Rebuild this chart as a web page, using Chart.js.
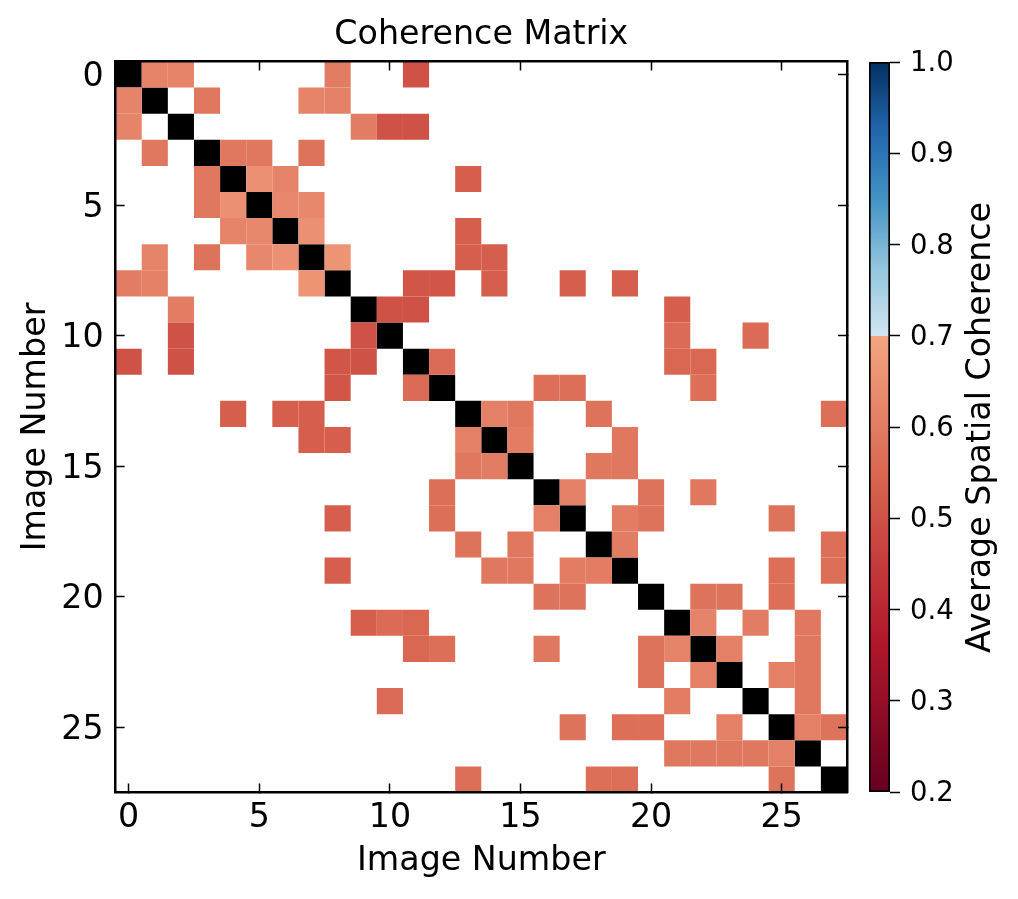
<!DOCTYPE html>
<html>
<head>
<meta charset="utf-8">
<title>Coherence Matrix</title>
<style>
    body { margin: 0; background: #fff; }
    canvas { position: absolute; top: 0; }
    #matrixChart { left: 0; }
    #colorbarChart { left: 855px; }
</style>
</head>
<body>
<canvas id="matrixChart" width="855" height="899"></canvas>
<canvas id="colorbarChart" width="163" height="899"></canvas>
<script src="https://cdn.jsdelivr.net/npm/chart.js@4"></script>
<script>
/* DATA */

const imageCount = 28
const imageTicks = [0, 5, 10, 15, 20, 25]
const colorbarTicks = [0.2, 0.3, 0.4, 0.5, 0.6, 0.7, 0.8, 0.9, 1.0]

// image pair [a, b, average coherence], matrix is symmetric
const pairs = [
    [0, 1, .62], [0, 2, .62], [0, 8, .60], [0, 11, .50],
    [1, 3, .59], [1, 7, .62], [1, 8, .61],
    [2, 9, .60], [2, 10, .50], [2, 11, .50],
    [3, 4, .59], [3, 5, .59], [3, 7, .58],
    [4, 5, .65], [4, 6, .62], [4, 13, .53],
    [5, 6, .63], [5, 7, .63],
    [6, 7, .65], [6, 13, .53],
    [7, 8, .66], [7, 13, .53], [7, 14, .53],
    [8, 11, .51], [8, 12, .51], [8, 14, .53], [8, 17, .53], [8, 19, .53],
    [9, 10, .50], [9, 11, .50], [9, 21, .53],
    [10, 21, .56], [10, 24, .56],
    [11, 12, .56], [11, 21, .55], [11, 22, .55],
    [12, 16, .57], [12, 17, .57], [12, 22, .57],
    [13, 14, .61], [13, 15, .59], [13, 18, .58], [13, 27, .57],
    [14, 15, .60], [14, 19, .59],
    [15, 18, .59], [15, 19, .59],
    [16, 17, .61], [16, 20, .58], [16, 22, .59],
    [17, 19, .60], [17, 20, .58], [17, 25, .58],
    [18, 19, .60], [18, 27, .57],
    [19, 25, .57], [19, 27, .57],
    [20, 22, .58], [20, 23, .58], [20, 25, .57],
    [21, 22, .62], [21, 24, .60], [21, 26, .59],
    [22, 23, .61], [22, 26, .59],
    [23, 25, .61], [23, 26, .59],
    [24, 26, .59],
    [25, 26, .61], [25, 27, .58]
]

// colormap: RdBu with the near-white middle cut out at 0.7
const cmapValues = [0.2, 0.367, 0.533, 0.7, 0.7, 0.775, 0.85, 0.925, 1.0]
const cmapColors = [
    [103, 0, 31], [178, 24, 43], [214, 96, 77], [244, 165, 130],
    [209, 229, 240], [146, 197, 222], [67, 147, 195], [33, 102, 172], [5, 48, 97]
]

/* HELPERS */

const FONT = '"DejaVu Sans"'

function coherenceColor(v) {
    let i = 0
    while (i < cmapValues.length - 2 && v >= cmapValues[i + 1]) i++
    const t = (v - cmapValues[i]) / ((cmapValues[i + 1] - cmapValues[i]) || 1)
    const c = cmapColors[i].map((a, k) => Math.round(a + (cmapColors[i + 1][k] - a) * t))
    return `rgb(${c[0]},${c[1]},${c[2]})`
}

function buildCells() {
    const cells = []
    for (let i = 0; i < imageCount; i++) {
        cells.push({ x: i, y: i, v: null })
    }
    pairs.forEach(([a, b, v]) => {
        cells.push({ x: b, y: a, v })
        cells.push({ x: a, y: b, v })
    })
    return cells
}

function useImageTicks(axis) {
    axis.ticks = imageTicks.map((value) => ({ value }))
}

function imageAxis(position, size, extra) {
    return Object.assign({
        type: 'linear',
        position,
        min: -0.5,
        max: imageCount - 0.5,
        afterBuildTicks: useImageTicks,
        afterFit: (axis) => {
            if (axis.isHorizontal()) axis.height = size
            else axis.width = size
        },
        grid: {
            drawOnChartArea: false,
            tickLength: -9,
            tickWidth: 1.5,
            tickColor: '#000',
            z: 2
        },
        border: { display: true, color: '#000', width: 2.5, z: 3 },
        ticks: { display: false }
    }, extra)
}

/* MATRIX */

new Chart(document.getElementById('matrixChart'), {
    type: 'scatter',
    data: {
        datasets: [{
            data: buildCells(),
            pointStyle: 'rect',
            borderWidth: 0,
            pointBorderWidth: 0,
            pointRadius: ({ chart }) => {
                const x = chart.scales.x
                return (x.getPixelForValue(1) - x.getPixelForValue(0)) / Math.SQRT2 || 0
            },
            pointHoverRadius: 0,
            pointBackgroundColor: (ctx) => {
                const v = ctx.raw && ctx.raw.v
                return v === null || v === undefined ? '#000' : coherenceColor(v)
            }
        }]
    },
    options: {
        responsive: false,
        animation: false,
        events: [],
        layout: { autoPadding: false, padding: 0 },
        plugins: {
            legend: { display: false },
            tooltip: { enabled: false },
            title: {
                display: true,
                fullSize: false,
                text: 'Coherence Matrix',
                color: '#000',
                font: { family: FONT, size: 33.3, weight: 'normal', lineHeight: 1.2 },
                padding: { top: 15, bottom: 6.5 }
            }
        },
        scales: {
            x: imageAxis('bottom', 106.5, {
                ticks: {
                    display: true, color: '#000', maxRotation: 0, autoSkip: false,
                    padding: 15, font: { family: FONT, size: 33.3 }
                },
                title: {
                    display: true, text: 'Image Number', color: '#000',
                    font: { family: FONT, size: 33.3 }, padding: { top: 0, bottom: 18 }
                }
            }),
            x2: imageAxis('top', 0),
            y: imageAxis('left', 115.6, {
                reverse: true,
                ticks: {
                    display: true, color: '#000', autoSkip: false,
                    padding: 21, labelOffset: 3, font: { family: FONT, size: 33.3 }
                },
                title: {
                    display: true, text: 'Image Number', color: '#000',
                    font: { family: FONT, size: 33.3 }, padding: { top: 16, bottom: 0 }
                }
            }),
            y2: imageAxis('right', 8, { reverse: true })
        }
    }
})

/* COLORBAR */

function colorbarFill({ chart }) {
    const area = chart.chartArea
    if (!area) return '#000'
    const y = chart.scales.y
    const top = y.getPixelForValue(1)
    const bottom = y.getPixelForValue(0.2)
    const gradient = chart.ctx.createLinearGradient(0, bottom, 0, top)
    cmapValues.forEach((v, i) => {
        const c = cmapColors[i]
        gradient.addColorStop((v - 0.2) / 0.8, `rgb(${c[0]},${c[1]},${c[2]})`)
    })
    return gradient
}

const colorbarLabel = {
    id: 'colorbarLabel',
    afterDraw(chart) {
        const { ctx } = chart
        ctx.save()
        ctx.translate(135, 427.5)
        ctx.rotate(-Math.PI / 2)
        ctx.font = `33.3px ${FONT}`
        ctx.fillStyle = '#000'
        ctx.textAlign = 'center'
        ctx.textBaseline = 'alphabetic'
        ctx.fillText('Average Spatial Coherence', 0, 0)
        ctx.restore()
    }
}

new Chart(document.getElementById('colorbarChart'), {
    type: 'bar',
    data: {
        labels: [''],
        datasets: [{
            data: [[0.2, 1.0]],
            backgroundColor: colorbarFill,
            borderColor: '#000',
            borderWidth: 2,
            borderSkipped: false,
            barPercentage: 1,
            categoryPercentage: 1
        }]
    },
    options: {
        responsive: false,
        animation: false,
        events: [],
        layout: { autoPadding: false, padding: { left: 14, top: 62, bottom: 107 } },
        plugins: { legend: { display: false }, tooltip: { enabled: false } },
        scales: {
            x: { display: false },
            y: {
                position: 'right',
                min: 0.2,
                max: 1,
                afterBuildTicks: (axis) => {
                    axis.ticks = colorbarTicks.map((value) => ({ value }))
                },
                afterFit: (axis) => { axis.width = 128 },
                grid: { drawOnChartArea: false, tickLength: 10, tickWidth: 1.5, tickColor: '#000' },
                border: { display: false },
                ticks: {
                    color: '#000', padding: 10, labelOffset: 2, autoSkip: false,
                    font: { family: FONT, size: 27.5 },
                    callback: (v) => v.toFixed(1)
                }
            }
        }
    },
    plugins: [colorbarLabel]
})
</script>
</body>
</html>
